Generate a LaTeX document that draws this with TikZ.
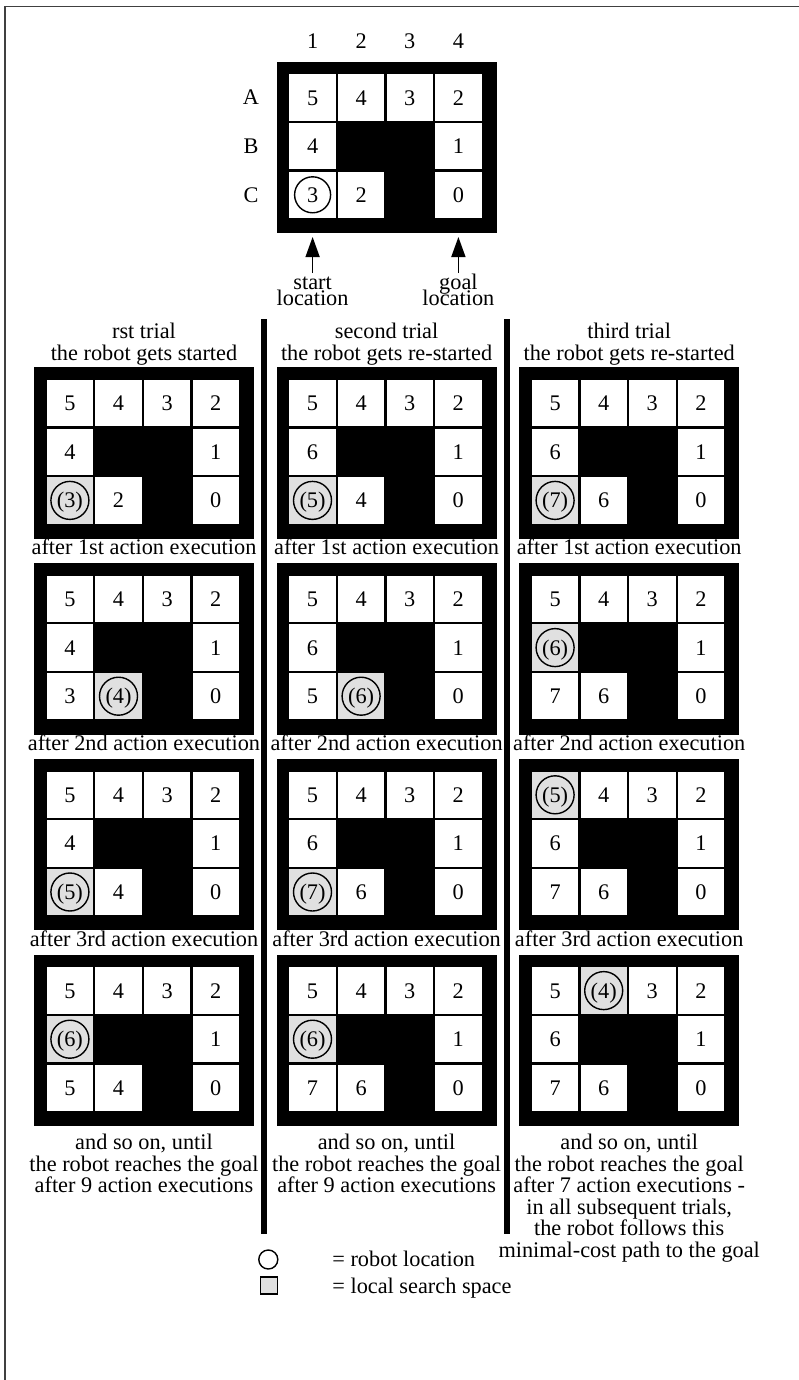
\documentclass[tikz,border=0pt]{standalone}
\usepackage{fontspec}
\setmainfont{Liberation Serif}
\usetikzlibrary{arrows.meta}
\setlength{\lineskiplimit}{-100pt}
\newcommand\bodyfont{\fontsize{22.3}{21.5}\selectfont}
\tikzset{
  every node/.style={font=\bodyfont, inner sep=0pt, outer sep=0pt},
  gridframe/.style={fill=black, minimum width=220pt, minimum height=171.4pt},
  whitecell/.style={fill=white, minimum size=46.4pt},
  graycell/.style={fill=black!12, minimum size=46.4pt},
  robot/.style={circle, draw=black, line width=1.4pt, minimum size=38pt},
  numtext/.style={anchor=base},
  caption/.style={anchor=base},
  multi/.style={anchor=north, align=center},
  sepline/.style={line width=5.5pt},
  pointer/.style={line width=1.5pt, -{Triangle[length=20pt,width=14pt]}},
  pageedge/.style={line width=1.6pt, draw=black!75},
  legcircle/.style={circle, draw=black, line width=1.4pt, minimum size=19pt},
  legsquare/.style={draw=black, fill=black!12, line width=1.4pt, minimum size=17pt},
}
\newcommand\cellgrid[4]{%
  \node[gridframe, anchor=north west] (#1) at (#2,#3) {};
  \foreach \ty/\vl [count=\k from 0] in {#4}{%
    \pgfmathtruncatemacro\mycol{mod(\k,4)}%
    \pgfmathtruncatemacro\myrow{(\k-\mycol)/4}%
    \pgfmathsetmacro\myx{#2+35.9+48.6*\mycol}%
    \pgfmathsetmacro\myy{#3+35.9+48.6*\myrow}%
    \if x\ty\relax\else
      \if g\ty
        \node[graycell] (#1-\k) at (\myx,\myy) {};
        \node[robot] (#1-\k-r) at (\myx,\myy) {};
        \node[numtext] (#1-\k-t) at (\myx,\myy+7.5) {(\vl)};
      \else
        \node[whitecell] (#1-\k) at (\myx,\myy) {};
        \if c\ty
          \node[robot, minimum size=36pt] (#1-\k-r) at (\myx,\myy) {};
        \fi
        \node[numtext] (#1-\k-t) at (\myx,\myy+7.5) {\vl};
      \fi
    \fi
  }%
}
\begin{document}
\begin{tikzpicture}[x=1pt,y=-1pt]
\useasboundingbox (0,0) rectangle (799,1380);
% page edge
\draw[pageedge] (4.8,1380) -- (4.8,6.5) -- (799,6.5);

% top grid
\cellgrid{top}{276.7}{61.7}{n/5,n/4,n/3,n/2,n/4,x/0,x/0,n/1,c/3,n/2,x/0,n/0}
\node[anchor=base] (c1) at (312.6,48.3) {1};
\node[anchor=base] (c2) at (361.2,48.3) {2};
\node[anchor=base] (c3) at (409.8,48.3) {3};
\node[anchor=base] (c4) at (458.4,48.3) {4};
\node (rA) at (251,97.6) {A};
\node (rB) at (251,146.2) {B};
\node (rC) at (251,194.8) {C};
\node[anchor=base] (startw) at (312.6,289) {start};
\node[anchor=base] (startl) at (312.6,305) {location};
\node[anchor=base] (goalw) at (458.4,289) {goal};
\node[anchor=base] (goall) at (458.4,305) {location};
\coordinate (sa-tail) at (312.6,273);
\coordinate (sa-tip) at (312.6,237);
\coordinate (ga-tail) at (458.4,273);
\coordinate (ga-tip) at (458.4,237);
\draw[pointer] (sa-tail) -- (sa-tip);
\draw[pointer] (ga-tail) -- (ga-tip);

% separators
\coordinate (s1a) at (264,319);
\coordinate (s1b) at (264,1234);
\coordinate (s2a) at (507,319);
\coordinate (s2b) at (507,1234);
\draw[sepline] (s1a) -- (s1b);
\draw[sepline] (s2a) -- (s2b);

% headings
\node[multi] (h1) at (144,323.3) {rst trial\\the robot gets started};
\node[multi] (h2) at (386.6,323.3) {second trial\\the robot gets re-started};
\node[multi] (h3) at (629.2,323.3) {third trial\\the robot gets re-started};

% trial 1
\cellgrid{ta}{34}{367.3}{n/5,n/4,n/3,n/2,n/4,x/0,x/0,n/1,g/3,n/2,x/0,n/0}
\cellgrid{tb}{34}{563.1}{n/5,n/4,n/3,n/2,n/4,x/0,x/0,n/1,n/3,g/4,x/0,n/0}
\cellgrid{tc}{34}{758.9}{n/5,n/4,n/3,n/2,n/4,x/0,x/0,n/1,g/5,n/4,x/0,n/0}
\cellgrid{td}{34}{954.7}{n/5,n/4,n/3,n/2,g/6,x/0,x/0,n/1,n/5,n/4,x/0,n/0}
% trial 2
\cellgrid{ua}{276.6}{367.3}{n/5,n/4,n/3,n/2,n/6,x/0,x/0,n/1,g/5,n/4,x/0,n/0}
\cellgrid{ub}{276.6}{563.1}{n/5,n/4,n/3,n/2,n/6,x/0,x/0,n/1,n/5,g/6,x/0,n/0}
\cellgrid{uc}{276.6}{758.9}{n/5,n/4,n/3,n/2,n/6,x/0,x/0,n/1,g/7,n/6,x/0,n/0}
\cellgrid{ud}{276.6}{954.7}{n/5,n/4,n/3,n/2,g/6,x/0,x/0,n/1,n/7,n/6,x/0,n/0}
% trial 3
\cellgrid{va}{519.2}{367.3}{n/5,n/4,n/3,n/2,n/6,x/0,x/0,n/1,g/7,n/6,x/0,n/0}
\cellgrid{vb}{519.2}{563.1}{n/5,n/4,n/3,n/2,g/6,x/0,x/0,n/1,n/7,n/6,x/0,n/0}
\cellgrid{vc}{519.2}{758.9}{g/5,n/4,n/3,n/2,n/6,x/0,x/0,n/1,n/7,n/6,x/0,n/0}
\cellgrid{vd}{519.2}{954.7}{n/5,g/4,n/3,n/2,n/6,x/0,x/0,n/1,n/7,n/6,x/0,n/0}

% captions
\node[caption] (k11) at (144,554.7) {after 1st action execution};
\node[caption] (k12) at (144,750.5) {after 2nd action execution};
\node[caption] (k13) at (144,946.3) {after 3rd action execution};
\node[caption] (k21) at (386.6,554.7) {after 1st action execution};
\node[caption] (k22) at (386.6,750.5) {after 2nd action execution};
\node[caption] (k23) at (386.6,946.3) {after 3rd action execution};
\node[caption] (k31) at (629.2,554.7) {after 1st action execution};
\node[caption] (k32) at (629.2,750.5) {after 2nd action execution};
\node[caption] (k33) at (629.2,946.3) {after 3rd action execution};

% final texts
\node[multi] (f1) at (144,1134.3) {and so on, until\\the robot reaches the goal\\after 9 action executions};
\node[multi] (f2) at (386.6,1134.3) {and so on, until\\the robot reaches the goal\\after 9 action executions};
\node[multi] (f3) at (629.2,1134.3) {and so on, until\\the robot reaches the goal\\after 7 action executions -\\in all subsequent trials,\\the robot follows this\\minimal-cost path to the goal};

% legend
\node[legcircle] (lc) at (268.3,1259.5) {};
\node[legsquare] (ls) at (269,1285.5) {};
\node[anchor=base west] (lct) at (332.4,1266.7) {= robot location};
\node[anchor=base west] (lst) at (332.4,1293.3) {= local search space};
\end{tikzpicture}
\end{document}
